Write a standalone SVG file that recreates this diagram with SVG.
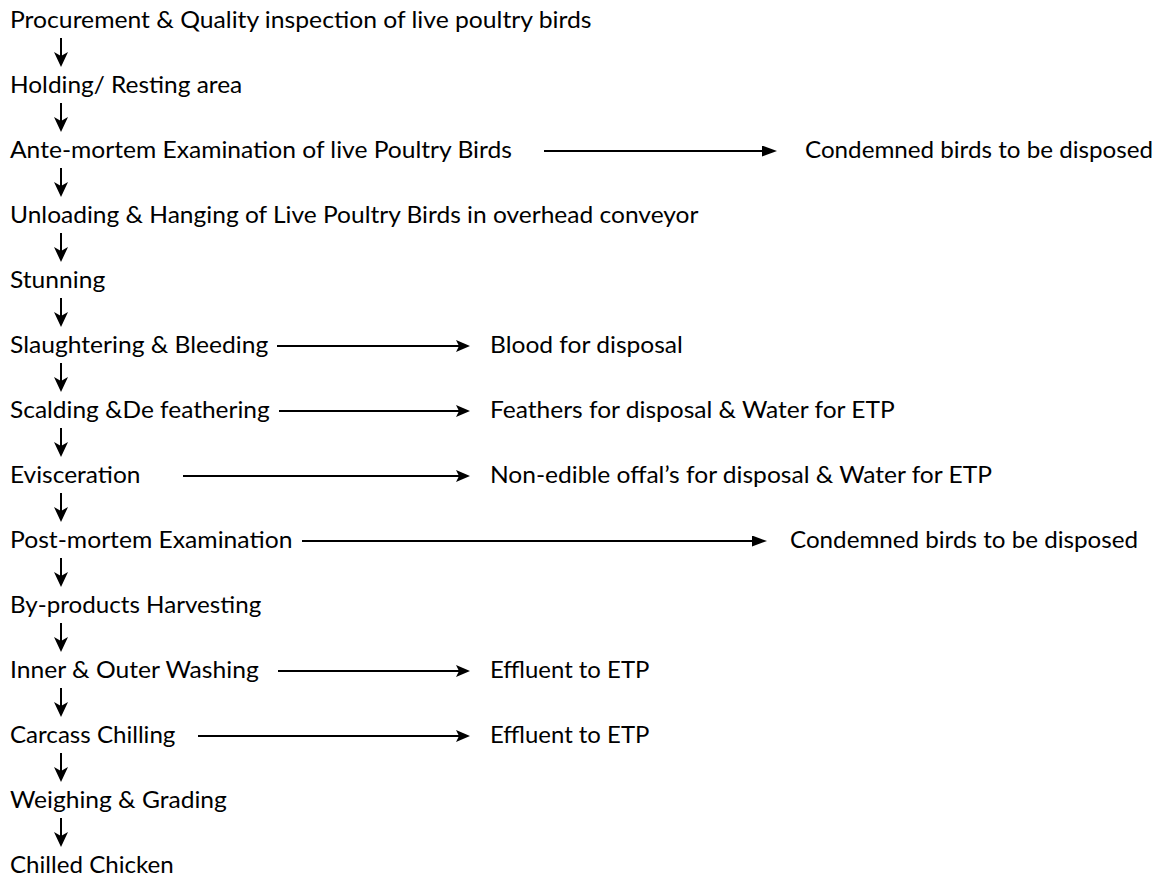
<svg xmlns="http://www.w3.org/2000/svg" width="1165" height="880" viewBox="0 0 1165 880">
<style>
  text { font-family: Lato, "Liberation Sans", Arial, sans-serif; font-size: 24px; fill: #000; }
  .c line { stroke: #000; stroke-width: 2; fill: none; }
  .v { marker-end: url(#down); }
  .s { marker-end: url(#stealth); }
  .t { marker-end: url(#tri); }
</style>
<defs>
  <marker id="down" viewBox="0 0 15 14" refX="6" refY="7" markerWidth="15" markerHeight="14" markerUnits="userSpaceOnUse" orient="auto">
    <path d="M0,0 L15,7 L0,14 L4,7 Z" fill="#000"/>
  </marker>
  <marker id="stealth" viewBox="0 0 14 12" refX="6" refY="6" markerWidth="14" markerHeight="12" markerUnits="userSpaceOnUse" orient="auto">
    <path d="M0,0 L14,6 L0,12 L3,6 Z" fill="#000"/>
  </marker>
  <marker id="tri" viewBox="0 0 15 11" refX="7" refY="5.5" markerWidth="15" markerHeight="11" markerUnits="userSpaceOnUse" orient="auto">
    <path d="M0,0 L15,5.5 L0,11 Z" fill="#000"/>
  </marker>
</defs>

<g id="n1"><text x="10" y="28" textLength="581.5" lengthAdjust="spacingAndGlyphs">Procurement &amp; Quality inspection of live poultry birds</text></g>
<g id="n2"><text x="10" y="93" textLength="232.2" lengthAdjust="spacingAndGlyphs">Holding/ Resting area</text></g>
<g id="n3"><text x="10" y="158" textLength="501.9" lengthAdjust="spacingAndGlyphs">Ante-mortem Examination of live Poultry Birds</text></g>
<g id="n4"><text x="10" y="223" textLength="688.4" lengthAdjust="spacingAndGlyphs">Unloading &amp; Hanging of Live Poultry Birds in overhead conveyor</text></g>
<g id="n5"><text x="10" y="288" textLength="95.2" lengthAdjust="spacingAndGlyphs">Stunning</text></g>
<g id="n6"><text x="10" y="353" textLength="258.3" lengthAdjust="spacingAndGlyphs">Slaughtering &amp; Bleeding</text></g>
<g id="n7"><text x="10" y="418" textLength="259.7" lengthAdjust="spacingAndGlyphs">Scalding &amp;De feathering</text></g>
<g id="n8"><text x="10" y="483" textLength="130.5" lengthAdjust="spacingAndGlyphs">Evisceration</text></g>
<g id="n9"><text x="10" y="548" textLength="282.4" lengthAdjust="spacingAndGlyphs">Post-mortem Examination</text></g>
<g id="n10"><text x="10" y="613" textLength="251.2" lengthAdjust="spacingAndGlyphs">By-products Harvesting</text></g>
<g id="n11"><text x="10" y="678" textLength="248.8" lengthAdjust="spacingAndGlyphs">Inner &amp; Outer Washing</text></g>
<g id="n12"><text x="10" y="743" textLength="165.4" lengthAdjust="spacingAndGlyphs">Carcass Chilling</text></g>
<g id="n13"><text x="10" y="808" textLength="216.8" lengthAdjust="spacingAndGlyphs">Weighing &amp; Grading</text></g>
<g id="n14"><text x="10" y="873" textLength="163.8" lengthAdjust="spacingAndGlyphs">Chilled Chicken</text></g>

<g id="o1"><text x="805" y="158" textLength="348" lengthAdjust="spacingAndGlyphs">Condemned birds to be disposed</text></g>
<g id="o2"><text x="490" y="353" textLength="192.9" lengthAdjust="spacingAndGlyphs">Blood for disposal</text></g>
<g id="o3"><text x="490" y="418" textLength="404.7" lengthAdjust="spacingAndGlyphs">Feathers for disposal &amp; Water for ETP</text></g>
<g id="o4"><text x="490" y="483" textLength="501.9" lengthAdjust="spacingAndGlyphs">Non-edible offal’s for disposal &amp; Water for ETP</text></g>
<g id="o5"><text x="790" y="548" textLength="348" lengthAdjust="spacingAndGlyphs">Condemned birds to be disposed</text></g>
<g id="o6"><text x="490" y="678" textLength="159.4" lengthAdjust="spacingAndGlyphs">Effluent to ETP</text></g>
<g id="o7"><text x="490" y="743" textLength="159.4" lengthAdjust="spacingAndGlyphs">Effluent to ETP</text></g>

<g id="connectors" class="c">
  <line class="v" x1="61" y1="38" x2="61" y2="58"/>
  <line class="v" x1="61" y1="103" x2="61" y2="123"/>
  <line class="v" x1="61" y1="168" x2="61" y2="188"/>
  <line class="v" x1="61" y1="233" x2="61" y2="253"/>
  <line class="v" x1="61" y1="298" x2="61" y2="318"/>
  <line class="v" x1="61" y1="363" x2="61" y2="383"/>
  <line class="v" x1="61" y1="428" x2="61" y2="448"/>
  <line class="v" x1="61" y1="493" x2="61" y2="513"/>
  <line class="v" x1="61" y1="558" x2="61" y2="578"/>
  <line class="v" x1="61" y1="623" x2="61" y2="643"/>
  <line class="v" x1="61" y1="688" x2="61" y2="708"/>
  <line class="v" x1="61" y1="753" x2="61" y2="773"/>
  <line class="v" x1="61" y1="818" x2="61" y2="838"/>

  <line class="t" x1="544" y1="151" x2="769" y2="151"/>
  <line class="s" x1="277" y1="346" x2="462" y2="346"/>
  <line class="s" x1="279" y1="411" x2="462" y2="411"/>
  <line class="s" x1="183" y1="476" x2="462" y2="476"/>
  <line class="t" x1="302" y1="541" x2="759" y2="541"/>
  <line class="s" x1="278" y1="671" x2="462" y2="671"/>
  <line class="s" x1="198" y1="736" x2="462" y2="736"/>
</g>
</svg>
